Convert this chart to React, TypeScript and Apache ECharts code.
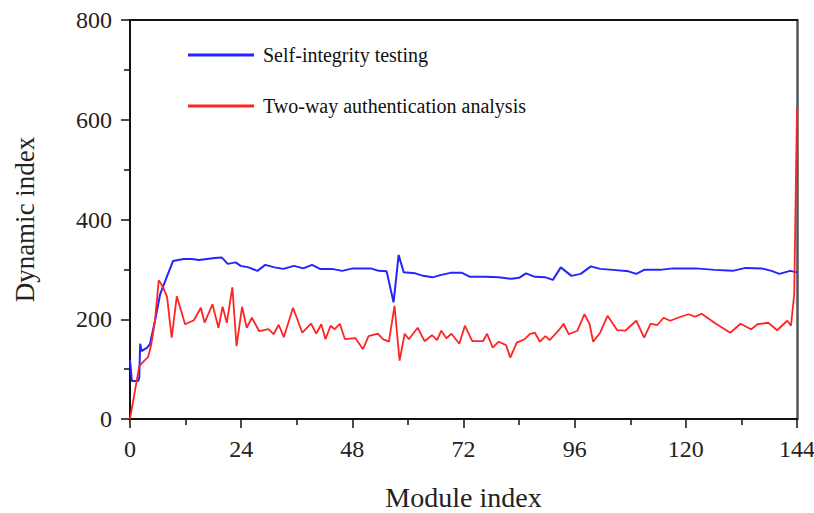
import React, { useEffect, useRef } from "react";
import * as echarts from "echarts";

const xTicks = [0, 24, 48, 72, 96, 120, 144];
const yTicks = [0, 200, 400, 600, 800];

const selfX = [0,0.4,1.8,2,2.2,2.5,3.7,4.3,5.4,6.5,7.9,9.3,10.4,11.6,13.3,14.9,16.6,18.3,19.8,21.1,22.8,23.9,25.6,27.5,29.2,31.2,33.1,35.4,37.4,39.3,41,43.6,45.8,48.1,52,53.7,55.4,56.9,58,59.1,61.6,63.3,65.3,67.2,69.2,71.7,73.4,76.7,79.6,82.4,84,85.5,87.4,89.7,91.3,93,95.3,97.3,99.5,101.5,104.3,107.6,109.3,111,114.4,117.2,122.2,126.2,130.1,132.9,136.3,138.5,140.2,142.5,144];
const selfY = [119,76,76,83,151,136,143,150,197,250,284,317,319,321,321,319,321,323,324,311,314,307,304,297,309,304,301,307,302,309,301,301,297,302,302,297,296,234,329,294,292,287,284,289,293,293,285,285,284,281,283,292,285,284,279,304,287,291,306,301,299,296,291,299,299,302,302,299,297,303,302,297,291,297,294];

const twoX = [0,2,3.1,3.9,4.6,5.4,6.2,7.1,8,9,10.1,11.9,13.8,15.3,16.1,17.8,19.1,20,20.9,22.1,23,24.2,25.2,26.3,27.9,29.9,31,32.1,33.2,35.2,37.2,39.1,40.2,41.3,42.2,43.3,44.2,45.3,46.4,48.7,50.3,51.5,53.5,54.6,55.9,57.1,58.2,59.3,60.2,62.1,63.6,65.2,66.3,67.2,68.3,69.4,71.1,72.3,73.9,76.2,77.1,78.3,79.6,81.2,82.1,83.5,85.2,86.3,87.4,88.5,89.7,90.6,92.5,93.6,94.7,96.6,98.1,99.2,100,101.5,103.1,105.2,106.9,109.3,111,112.4,113.8,115.2,116.6,118.9,120.6,122,123.4,126.5,129.6,131.8,134.1,135.5,137.8,139.7,141.9,142.7,143.4,144];
const twoY = [0,106,117,124,150,197,278,265,245,163,246,190,198,223,193,230,183,225,193,264,146,225,183,203,176,180,170,189,164,223,173,191,171,190,160,187,180,191,160,162,140,166,171,160,155,227,117,171,160,183,156,168,158,177,162,171,151,187,156,156,171,143,155,148,123,153,160,170,173,155,166,158,177,191,170,177,210,191,155,173,207,178,177,197,163,191,188,203,197,205,210,205,211,191,173,191,180,190,193,178,197,187,250,623];

const FONT = "'Liberation Serif', 'Times New Roman', serif";

function zip(xs: number[], ys: number[]) {
  const n = Math.min(xs.length, ys.length);
  const out: number[][] = [];
  for (let i = 0; i < n; i++) out.push([xs[i], ys[i]]);
  return out;
}

export default function App() {
  const ref = useRef<HTMLDivElement>(null);
  useEffect(() => {
    if (!ref.current) return;
    const chart = echarts.init(ref.current, null, { renderer: "svg" });
    chart.setOption({
      animation: false,
      backgroundColor: "#ffffff",
      grid: { left: 130, right: 17, top: 20, bottom: 94, containLabel: false, outerBoundsMode: "none" },
      legend: {
        orient: "vertical",
        left: 183,
        top: 40,
        itemWidth: 66,
        itemHeight: 3,
        itemGap: 31,
        icon: "rect",
        textStyle: { fontFamily: FONT, fontSize: 20, color: "#111", padding: [0, 0, 0, 4] },
        data: ["Self-integrity testing", "Two-way authentication analysis"],
      },
      xAxis: [
        {
          type: "value",
          min: 0,
          max: 144,
          interval: 24,
          name: "Module index",
          nameLocation: "middle",
          nameGap: 64,
          nameTextStyle: { fontFamily: FONT, fontSize: 28, color: "#222" },
          axisLine: { show: true, onZero: false, lineStyle: { color: "#111", width: 2 } },
          axisTick: { show: true, inside: false, length: 9, lineStyle: { color: "#111", width: 1.5 } },
          minorTick: { show: true, splitNumber: 2, length: 6, lineStyle: { color: "#111", width: 1.5 } },
          axisLabel: {
            fontFamily: FONT, fontSize: 24, color: "#222", margin: 18,
            formatter: (v: number) => (xTicks.includes(v) ? String(v) : ""),
          },
          splitLine: { show: false },
        },
        {
          type: "value",
          position: "top",
          min: 0,
          max: 144,
          axisLine: { show: true, onZero: false, lineStyle: { color: "#111", width: 2 } },
          axisTick: { show: false },
          axisLabel: { show: false },
          splitLine: { show: false },
        },
      ],
      yAxis: [
        {
          type: "value",
          min: 0,
          max: 800,
          interval: 200,
          name: "Dynamic index",
          nameLocation: "middle",
          nameGap: 92,
          nameTextStyle: { fontFamily: FONT, fontSize: 27, color: "#222" },
          axisLine: { show: true, onZero: false, lineStyle: { color: "#111", width: 2 } },
          axisTick: { show: true, inside: false, length: 9, lineStyle: { color: "#111", width: 1.5 } },
          minorTick: { show: true, splitNumber: 2, length: 6, lineStyle: { color: "#111", width: 1.5 } },
          axisLabel: {
            fontFamily: FONT, fontSize: 24, color: "#222", margin: 18,
            formatter: (v: number) => (yTicks.includes(v) ? String(v) : ""),
          },
          splitLine: { show: false },
        },
        {
          type: "value",
          position: "right",
          min: 0,
          max: 800,
          axisLine: { show: true, onZero: false, lineStyle: { color: "#555", width: 2.5 } },
          axisTick: { show: false },
          axisLabel: { show: false },
          splitLine: { show: false },
        },
      ],
      series: [
        {
          name: "Self-integrity testing",
          type: "line",
          data: zip(selfX, selfY),
          showSymbol: false,
          symbol: "none",
          lineStyle: { color: "#2424ff", width: 2 },
          itemStyle: { color: "#2424ff" },
          z: 3,
        },
        {
          name: "Two-way authentication analysis",
          type: "line",
          data: zip(twoX, twoY),
          showSymbol: false,
          symbol: "none",
          lineStyle: { color: "#ff2424", width: 1.8 },
          itemStyle: { color: "#ff2424" },
          z: 4,
        },
      ],
    });
    return () => chart.dispose();
  }, []);
  return (
    <div
      ref={ref}
      style={{ position: "absolute", left: 0, top: 0, width: 814, height: 513 }}
    />
  );
}
